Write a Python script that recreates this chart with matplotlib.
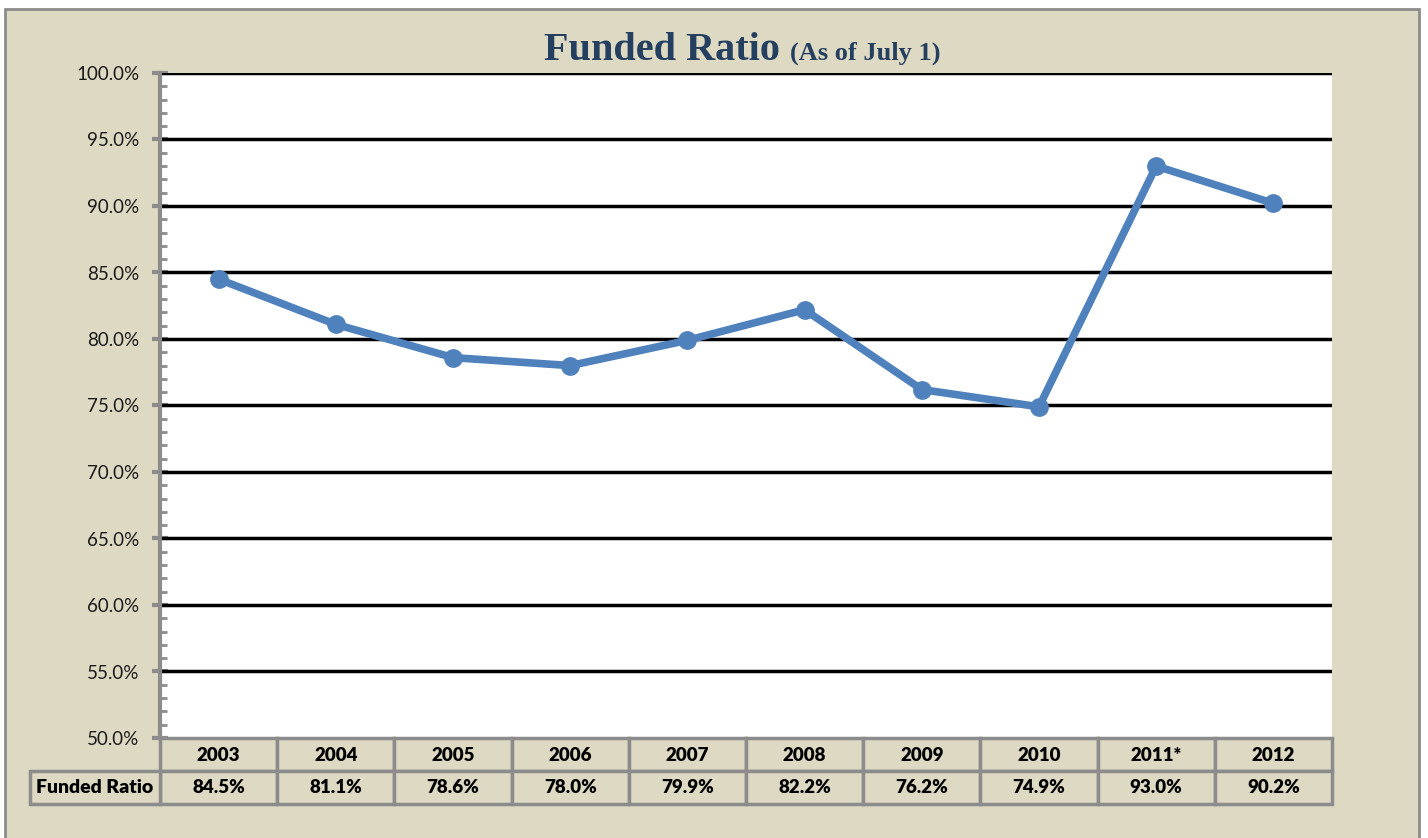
import matplotlib.pyplot as plt
from matplotlib.patches import Rectangle
from matplotlib.ticker import MultipleLocator, FuncFormatter
import matplotlib.transforms as mtransforms

years = ['2003', '2004', '2005', '2006', '2007', '2008', '2009', '2010', '2011*', '2012']
funded = [84.5, 81.1, 78.6, 78.0, 79.9, 82.2, 76.2, 74.9, 93.0, 90.2]
row_label = 'Funded Ratio'

bg = '#DDD9C3'
grey = '#8C8C8C'
line_col = '#4F81BD'
title_col = '#243F60'
lab_font = ['Lato', 'DejaVu Sans']

fig = plt.figure(figsize=(14.28, 8.38), dpi=100)
fig.patch.set_facecolor('white')
# outer chart frame
fig.patches.append(Rectangle((5 / 1428, -0.05), 1414 / 1428, 1 - 9 / 838 + 0.05,
                             transform=fig.transFigure, facecolor=bg,
                             edgecolor=grey, linewidth=2, zorder=-5))

ax = fig.add_axes([160 / 1428, 1 - 738 / 838, 1172 / 1428, 665 / 838])
ax.set_facecolor('white')

x = list(range(len(years)))
ax.plot(x, funded, color=line_col, linewidth=5.5, marker='o', markersize=12.5,
        solid_capstyle='round', zorder=5)

ax.set_xlim(-0.5, len(years) - 0.5)
ax.set_ylim(50, 100)
ax.yaxis.set_major_locator(MultipleLocator(5))
ax.yaxis.set_minor_locator(MultipleLocator(1))
ax.yaxis.set_major_formatter(FuncFormatter(lambda v, p: '%.1f%%' % v))
ax.set_xticks([])
for v in range(55, 101, 5):
    ax.axhline(v, color='black', linewidth=2.5, zorder=2)

for s in ['top', 'right', 'bottom']:
    ax.spines[s].set_visible(False)
ax.spines['left'].set_color(grey)
ax.spines['left'].set_linewidth(3)
ax.tick_params(axis='y', which='major', direction='inout', length=12, width=3,
               color=grey, labelsize=13.5, pad=9, labelcolor='#1a1a1a')
ax.tick_params(axis='y', which='minor', direction='in', length=5, width=2, color=grey)
for t in ax.get_yticklabels():
    t.set_family(lab_font)

# data table below the plot
rh = 33 / 665
trans = mtransforms.blended_transform_factory(ax.transData, ax.transAxes)
for i, (yr, val) in enumerate(zip(years, funded)):
    ax.add_patch(Rectangle((i - 0.5, -rh), 1, rh, transform=trans, facecolor=bg,
                           edgecolor=grey, linewidth=2.5, clip_on=False, zorder=3))
    ax.add_patch(Rectangle((i - 0.5, -2 * rh), 1, rh, transform=trans, facecolor=bg,
                           edgecolor=grey, linewidth=2.5, clip_on=False, zorder=3))
    ax.text(i, -rh / 2 - 0.002, yr, transform=trans, ha='center', va='center',
            fontsize=13.5, fontweight='heavy', family=lab_font, zorder=4)
    ax.text(i, -1.5 * rh, '%.1f%%' % val, transform=trans, ha='center', va='center',
            fontsize=13.5, fontweight='heavy', family=lab_font, zorder=4)
lw = 130 / 1172
ax.add_patch(Rectangle((-lw, -2 * rh), lw, rh, transform=ax.transAxes, facecolor=bg,
                       edgecolor=grey, linewidth=2.5, clip_on=False, zorder=3))
ax.text(-lw / 2, -1.5 * rh, row_label, transform=ax.transAxes, ha='center', va='center',
        fontsize=14, fontweight='heavy', family=lab_font, zorder=4)

# title
fig.text(780 / 1428, 1 - 60 / 838, 'Funded Ratio', ha='right', va='baseline', color=title_col,
         fontsize=29, fontweight='bold', family=['Liberation Serif', 'DejaVu Serif'])
fig.text(790 / 1428, 1 - 60 / 838, '(As of July 1)', ha='left', va='baseline', color=title_col,
         fontsize=19, fontweight='bold', family=['Liberation Serif', 'DejaVu Serif'])

fig.savefig('out.png', dpi=100, facecolor=fig.get_facecolor())
